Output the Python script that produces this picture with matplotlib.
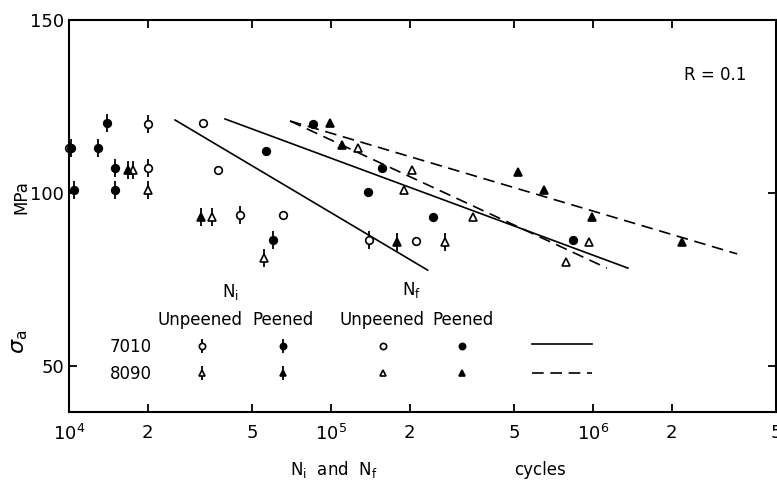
import numpy as np
import matplotlib
matplotlib.use('Agg')
import matplotlib.pyplot as plt

plt.rcParams['font.family'] = ['Liberation Sans Narrow', 'DejaVu Sans']

# Dati: N (cicli) e sigma_a (MPa)
# N_i, non pallinato / pallinato
ni_unp_7010_n = [1.0e4, 2.0e4, 2.0e4, 4.5e4, 1.40e5]
ni_unp_7010_s = [113, 120, 107.2, 93.6, 86.4]
ni_pee_7010_n = [1.02e4, 1.045e4, 1.29e4, 1.40e4, 1.5e4, 1.5e4, 6.0e4]
ni_pee_7010_s = [113, 101, 113, 120.2, 107.2, 101, 86.4]
ni_unp_8090_n = [1.76e4, 2.0e4, 3.52e4, 5.55e4, 2.72e5]
ni_unp_8090_s = [106.6, 101, 93, 81.2, 85.8]
ni_pee_8090_n = [1.68e4, 3.19e4, 1.79e5]
ni_pee_8090_s = [106.6, 93, 85.8]

# N_f
nf_unp_7010_n = [3.24e4, 3.71e4, 6.56e4, 2.11e5]
nf_unp_7010_s = [120.2, 106.6, 93.6, 86]
nf_pee_7010_n = [5.65e4, 8.53e4, 1.38e5, 1.57e5, 2.45e5, 8.4e5]
nf_pee_7010_s = [112.1, 120, 100.3, 107.2, 93, 86.4]
nf_unp_8090_n = [1.27e5, 1.9e5, 2.04e5, 3.48e5, 7.9e5, 9.66e5]
nf_unp_8090_s = [113, 100.9, 106.6, 93, 80, 85.8]
nf_pee_8090_n = [9.9e4, 1.10e5, 5.17e5, 6.5e5, 9.9e5, 2.19e6]
nf_pee_8090_s = [120.2, 113.9, 106.1, 100.9, 93, 85.8]

# Rette (estremi)
ni_7010_n, ni_7010_s = [2.54e4, 2.34e5], [121.1, 77.7]
nf_7010_n, nf_7010_s = [3.94e4, 1.36e6], [121.4, 78.3]
ni_8090_n, ni_8090_s = [6.98e4, 1.13e6], [120.8, 78.3]
nf_8090_n, nf_8090_s = [6.98e4, 3.55e6], [120.8, 82.4]

xticks = [1e4, 2e4, 5e4, 1e5, 2e5, 5e5, 1e6, 2e6, 5e6]
xticklabels = ['$10^4$', '2', '5', '$10^5$', '2', '5', '$10^6$', '2', '5']
yticks = [50, 100, 150]

fig = plt.figure(figsize=(7.77, 4.86), dpi=100)
ax = fig.add_axes([0.0888, 0.1529, 0.910, 0.806])

dash = (0, (7, 4))


def simbolo(ax, x, y, marker, filled, bar, ms=5.5, **kw):
    if bar:
        ax.plot(x, y, ls='none', marker='|', ms=ms * 2.3, mew=1.3, color='k',
                clip_on=False, **kw)
    ax.plot(x, y, ls='none', marker=marker, ms=ms, mew=1.2, mec='k',
            mfc='k' if filled else 'white', clip_on=False, **kw)


simbolo(ax, ni_unp_7010_n, ni_unp_7010_s, 'o', False, True)
simbolo(ax, ni_pee_7010_n, ni_pee_7010_s, 'o', True, True)
simbolo(ax, ni_unp_8090_n, ni_unp_8090_s, '^', False, True)
simbolo(ax, ni_pee_8090_n, ni_pee_8090_s, '^', True, True)
simbolo(ax, nf_unp_7010_n, nf_unp_7010_s, 'o', False, False)
simbolo(ax, nf_pee_7010_n, nf_pee_7010_s, 'o', True, False)
simbolo(ax, nf_unp_8090_n, nf_unp_8090_s, '^', False, False, ms=6)
simbolo(ax, nf_pee_8090_n, nf_pee_8090_s, '^', True, False, ms=6)

ax.plot(ni_7010_n, ni_7010_s, 'k-', lw=1.2)
ax.plot(nf_7010_n, nf_7010_s, 'k-', lw=1.2)
ax.plot(ni_8090_n, ni_8090_s, 'k', ls=dash, lw=1.2)
ax.plot(nf_8090_n, nf_8090_s, 'k', ls=dash, lw=1.2)

# Legenda
fs = 12
ax.text(0.228, 0.306, r'N$_{\rm i}$', transform=ax.transAxes, ha='center', va='center', fontsize=fs)
ax.text(0.485, 0.311, r'N$_{\rm f}$', transform=ax.transAxes, ha='center', va='center', fontsize=fs)
for xc, lab in zip([0.185, 0.303, 0.443, 0.557], ['Unpeened', 'Peened', 'Unpeened', 'Peened']):
    ax.text(xc, 0.234, lab, transform=ax.transAxes, ha='center', va='center', fontsize=fs)
ax.text(0.117, 0.166, '7010', transform=ax.transAxes, ha='right', va='center', fontsize=fs)
ax.text(0.117, 0.096, '8090', transform=ax.transAxes, ha='right', va='center', fontsize=fs)
tr = ax.transAxes
simbolo(ax, [0.188], [0.168], 'o', False, True, ms=4.5, transform=tr)
simbolo(ax, [0.188], [0.099], '^', False, True, ms=4.5, transform=tr)
simbolo(ax, [0.303], [0.168], 'o', True, True, ms=4.5, transform=tr)
simbolo(ax, [0.303], [0.099], '^', True, True, ms=4.5, transform=tr)
simbolo(ax, [0.444], [0.168], 'o', False, False, ms=4.5, transform=tr)
simbolo(ax, [0.444], [0.099], '^', False, False, ms=4.5, transform=tr)
simbolo(ax, [0.556], [0.168], 'o', True, False, ms=4.5, transform=tr)
simbolo(ax, [0.556], [0.099], '^', True, False, ms=4.5, transform=tr)
ax.plot([0.655, 0.740], [0.172, 0.172], 'k-', lw=1.2, transform=tr)
ax.plot([0.655, 0.740], [0.098, 0.098], 'k', ls=dash, lw=1.2, transform=tr)

ax.text(0.914, 0.86, 'R = 0.1', transform=ax.transAxes, ha='center', va='center', fontsize=fs)

ax.set_xscale('log')
ax.set_xlim(1e4, 5e6)
ax.set_ylim(36.8, 150)
ax.set_xticks(xticks)
ax.set_xticklabels(xticklabels)
ax.xaxis.set_minor_locator(matplotlib.ticker.NullLocator())
ax.set_yticks(yticks)
ax.tick_params(direction='in', length=6, width=1.3, labelsize=13, top=True, right=True)
ax.tick_params(axis='x', pad=9)
for s in ax.spines.values():
    s.set_linewidth(1.5)

fig.text(0.373, 0.033, r'N$_{\rm i}$  and  N$_{\rm f}$', ha='left', va='center', fontsize=fs)
fig.text(0.695, 0.033, 'cycles', ha='center', va='center', fontsize=fs)
fig.text(0.028, 0.595, 'MPa', rotation=90, ha='center', va='center', fontsize=fs)
fig.text(0.026, 0.296, r'$\sigma_{\rm a}$', rotation=90, ha='center', va='center', fontsize=16)

fig.savefig('out.png', dpi=100)
